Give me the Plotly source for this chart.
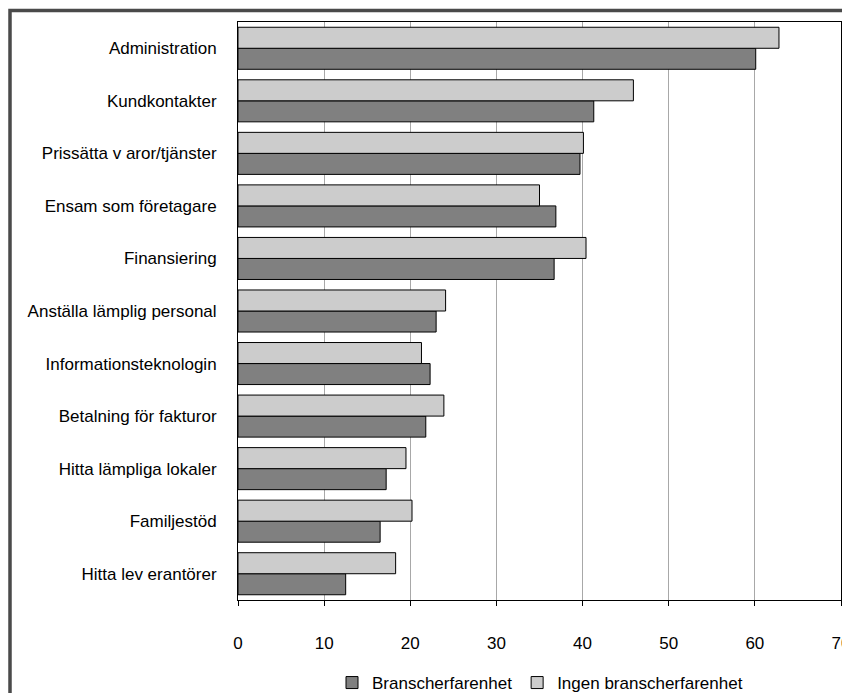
import plotly.graph_objects as go

categories = [
    "Administration", "Kundkontakter", "Prissätta v aror/tjänster",
    "Ensam som företagare", "Finansiering", "Anställa lämplig personal",
    "Informationsteknologin", "Betalning för fakturor", "Hitta lämpliga lokaler",
    "Familjestöd", "Hitta lev erantörer",
]
med_erfarenhet = [60.1, 41.3, 39.7, 36.9, 36.7, 23.0, 22.3, 21.8, 17.2, 16.5, 12.5]
utan_erfarenhet = [62.8, 45.9, 40.1, 35.0, 40.4, 24.1, 21.3, 23.9, 19.5, 20.2, 18.3]
x_ticks = [0, 10, 20, 30, 40, 50, 60, 70]

# page has an 8px body margin, so the figure is a bit smaller than the window
W, H = 842, 685
L, R, T, B = 230, 9, 14, 93
pw, ph = W - L - R, H - T - B

def px_x(x):
    return (x - L) / pw

def px_y(y):
    return (H - B - y) / ph

fig = go.Figure()
fig.add_trace(go.Bar(
    y=categories, x=med_erfarenhet, orientation="h", name="Branscherfarenhet",
    marker=dict(color="#808080", line=dict(color="black", width=1)),
))
fig.add_trace(go.Bar(
    y=categories, x=utan_erfarenhet, orientation="h", name="Ingen branscherfarenhet",
    marker=dict(color="#cccccc", line=dict(color="black", width=1)),
))

# outer frame of the original picture
fig.add_shape(type="rect", xref="paper", yref="paper",
              x0=px_x(2), x1=px_x(860), y0=px_y(720), y1=px_y(2.5),
              line=dict(color="#4a4a4a", width=3.5), layer="above")

fig.update_layout(
    width=W, height=H,
    margin=dict(l=L, r=R, t=T, b=B),
    paper_bgcolor="white", plot_bgcolor="white",
    font=dict(family="Liberation Sans, Arial, sans-serif", size=17, color="black"),
    barmode="group", bargap=0.2, bargroupgap=0,
    showlegend=True,
    legend=dict(orientation="h", xref="container", yref="container",
                x=324 / W, xanchor="left", y=1 - 675 / H, yanchor="middle",
                font=dict(size=17), itemwidth=30, traceorder="normal"),
    xaxis=dict(range=[0, 70], tickvals=x_ticks, showgrid=True, gridcolor="#a8a8a8",
               gridwidth=1, showline=True, linecolor="black", linewidth=1, mirror=True,
               ticks="outside", ticklen=5, tickcolor="black", ticklabelstandoff=23,
               ticklabeloverflow="allow", automargin=False, zeroline=False),
    yaxis=dict(categoryorder="array", categoryarray=categories[::-1],
               showline=True, linecolor="black", linewidth=1, mirror=True,
               ticks="", ticklabelstandoff=17, showgrid=False, automargin=False),
)

fig.write_html("out.html")
